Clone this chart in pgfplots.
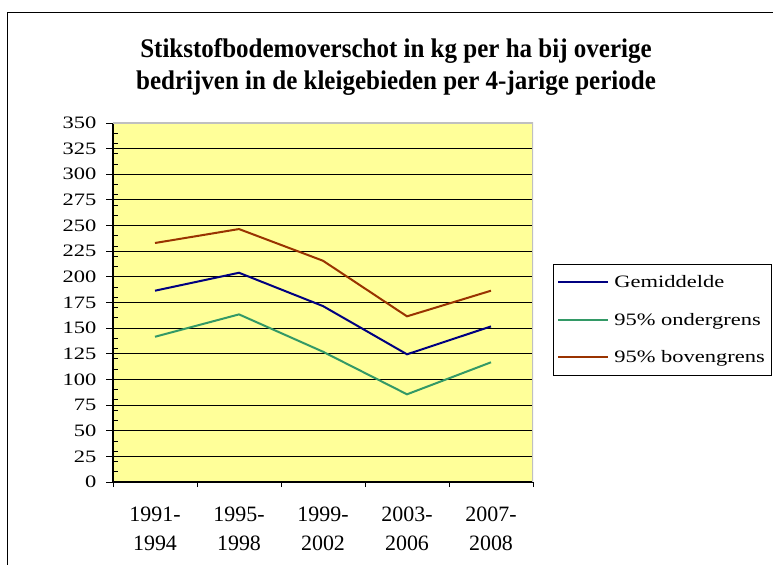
\documentclass[border=0pt]{standalone}
\usepackage{fontspec}
\setmainfont{Liberation Serif}
\newfontfamily\titlefont[FakeStretch=0.93]{Liberation Serif}
\newfontfamily\widefont[FakeStretch=1.29]{Liberation Serif}
\usepackage{pgfplots}
\pgfplotsset{compat=1.18}
\definecolor{bgyellow}{HTML}{FFFF99}
\definecolor{navyc}{HTML}{000080}
\definecolor{greenc}{HTML}{339966}
\definecolor{brownc}{HTML}{993300}
\definecolor{plotgray}{HTML}{C0C0C0}
\begin{document}
\begin{tikzpicture}
\useasboundingbox (0bp,0bp) rectangle (773bp,565bp);
\fill[white] (0bp,0bp) rectangle (773bp,565bp);
\draw[black, line width=1.2bp] (7.5bp,-20bp) -- (7.5bp,552.5bp) -- (790bp,552.5bp);
\node[anchor=base, inner sep=0pt, font={\titlefont\fontsize{27}{32}\selectfont\bfseries}] at (396bp,507bp) {Stikstofbodemoverschot in kg per ha bij overige};
\node[anchor=base, inner sep=0pt, font={\titlefont\fontsize{27}{32}\selectfont\bfseries}] at (396bp,475bp) {bedrijven in de kleigebieden per 4-jarige periode};
\begin{axis}[
  at={(113bp,83bp)}, anchor=south west,
  scale only axis, width=420bp, height=359bp,
  xmin=-0.5, xmax=4.5, ymin=0, ymax=350,
  axis background/.style={fill=bgyellow},
  axis lines*=left,
  axis line style={black, line width=1.2bp},
  ytick={0,25,...,350},
  minor ytick={0,10,...,350},
  ymajorgrids,
  major grid style={black, line width=0.9bp},
  tick align=outside,
  major tick length=7bp,
  minor tick length=5bp,
  tick style={black, line width=0.9bp},
  minor y tick style={xshift=5bp},
  xtick={0,1,2,3,4},
  xticklabels={{1991-\\1994},{1995-\\1998},{1999-\\2002},{2003-\\2006},{2007-\\2008}},
  major x tick style={draw=none},
  minor xtick={-0.5,0.5,...,4.5},
  /pgf/number format/assume math mode=true,
  yticklabel style={font={\widefont\fontsize{17.5}{20}\selectfont}, xshift=-6bp},
  xticklabel style={align=center, font={\fontsize{22}{30}\selectfont}, yshift=-14bp},
  legend cell align=left,
  legend style={at={(1.0476,0.607)}, anchor=north west, draw=black, line width=0.8bp, fill=white,
    font={\widefont\fontsize{17.5}{20}\selectfont}, row sep=20bp, column sep=3bp, inner xsep=4bp, inner ysep=9bp},
  legend image code/.code={\draw[#1, line width=2bp] (0bp,0bp) -- (50bp,0bp);},
]
\draw[plotgray, line width=1.5bp] (rel axis cs:0,1) -- (rel axis cs:1,1) -- (rel axis cs:1,0);
\addplot[color=navyc, line width=2bp] coordinates {(0,186.5) (1,204) (2,171.5) (3,124.5) (4,151.7)};
\addlegendentry{Gemiddelde}
\addplot[color=greenc, line width=2bp] coordinates {(0,141.6) (1,163.4) (2,127) (3,85.5) (4,116.7)};
\addlegendentry{95\% ondergrens}
\addplot[color=brownc, line width=2bp] coordinates {(0,233) (1,246.6) (2,215.7) (3,161.5) (4,186.5)};
\addlegendentry{95\% bovengrens}
\end{axis}
\end{tikzpicture}
\end{document}
